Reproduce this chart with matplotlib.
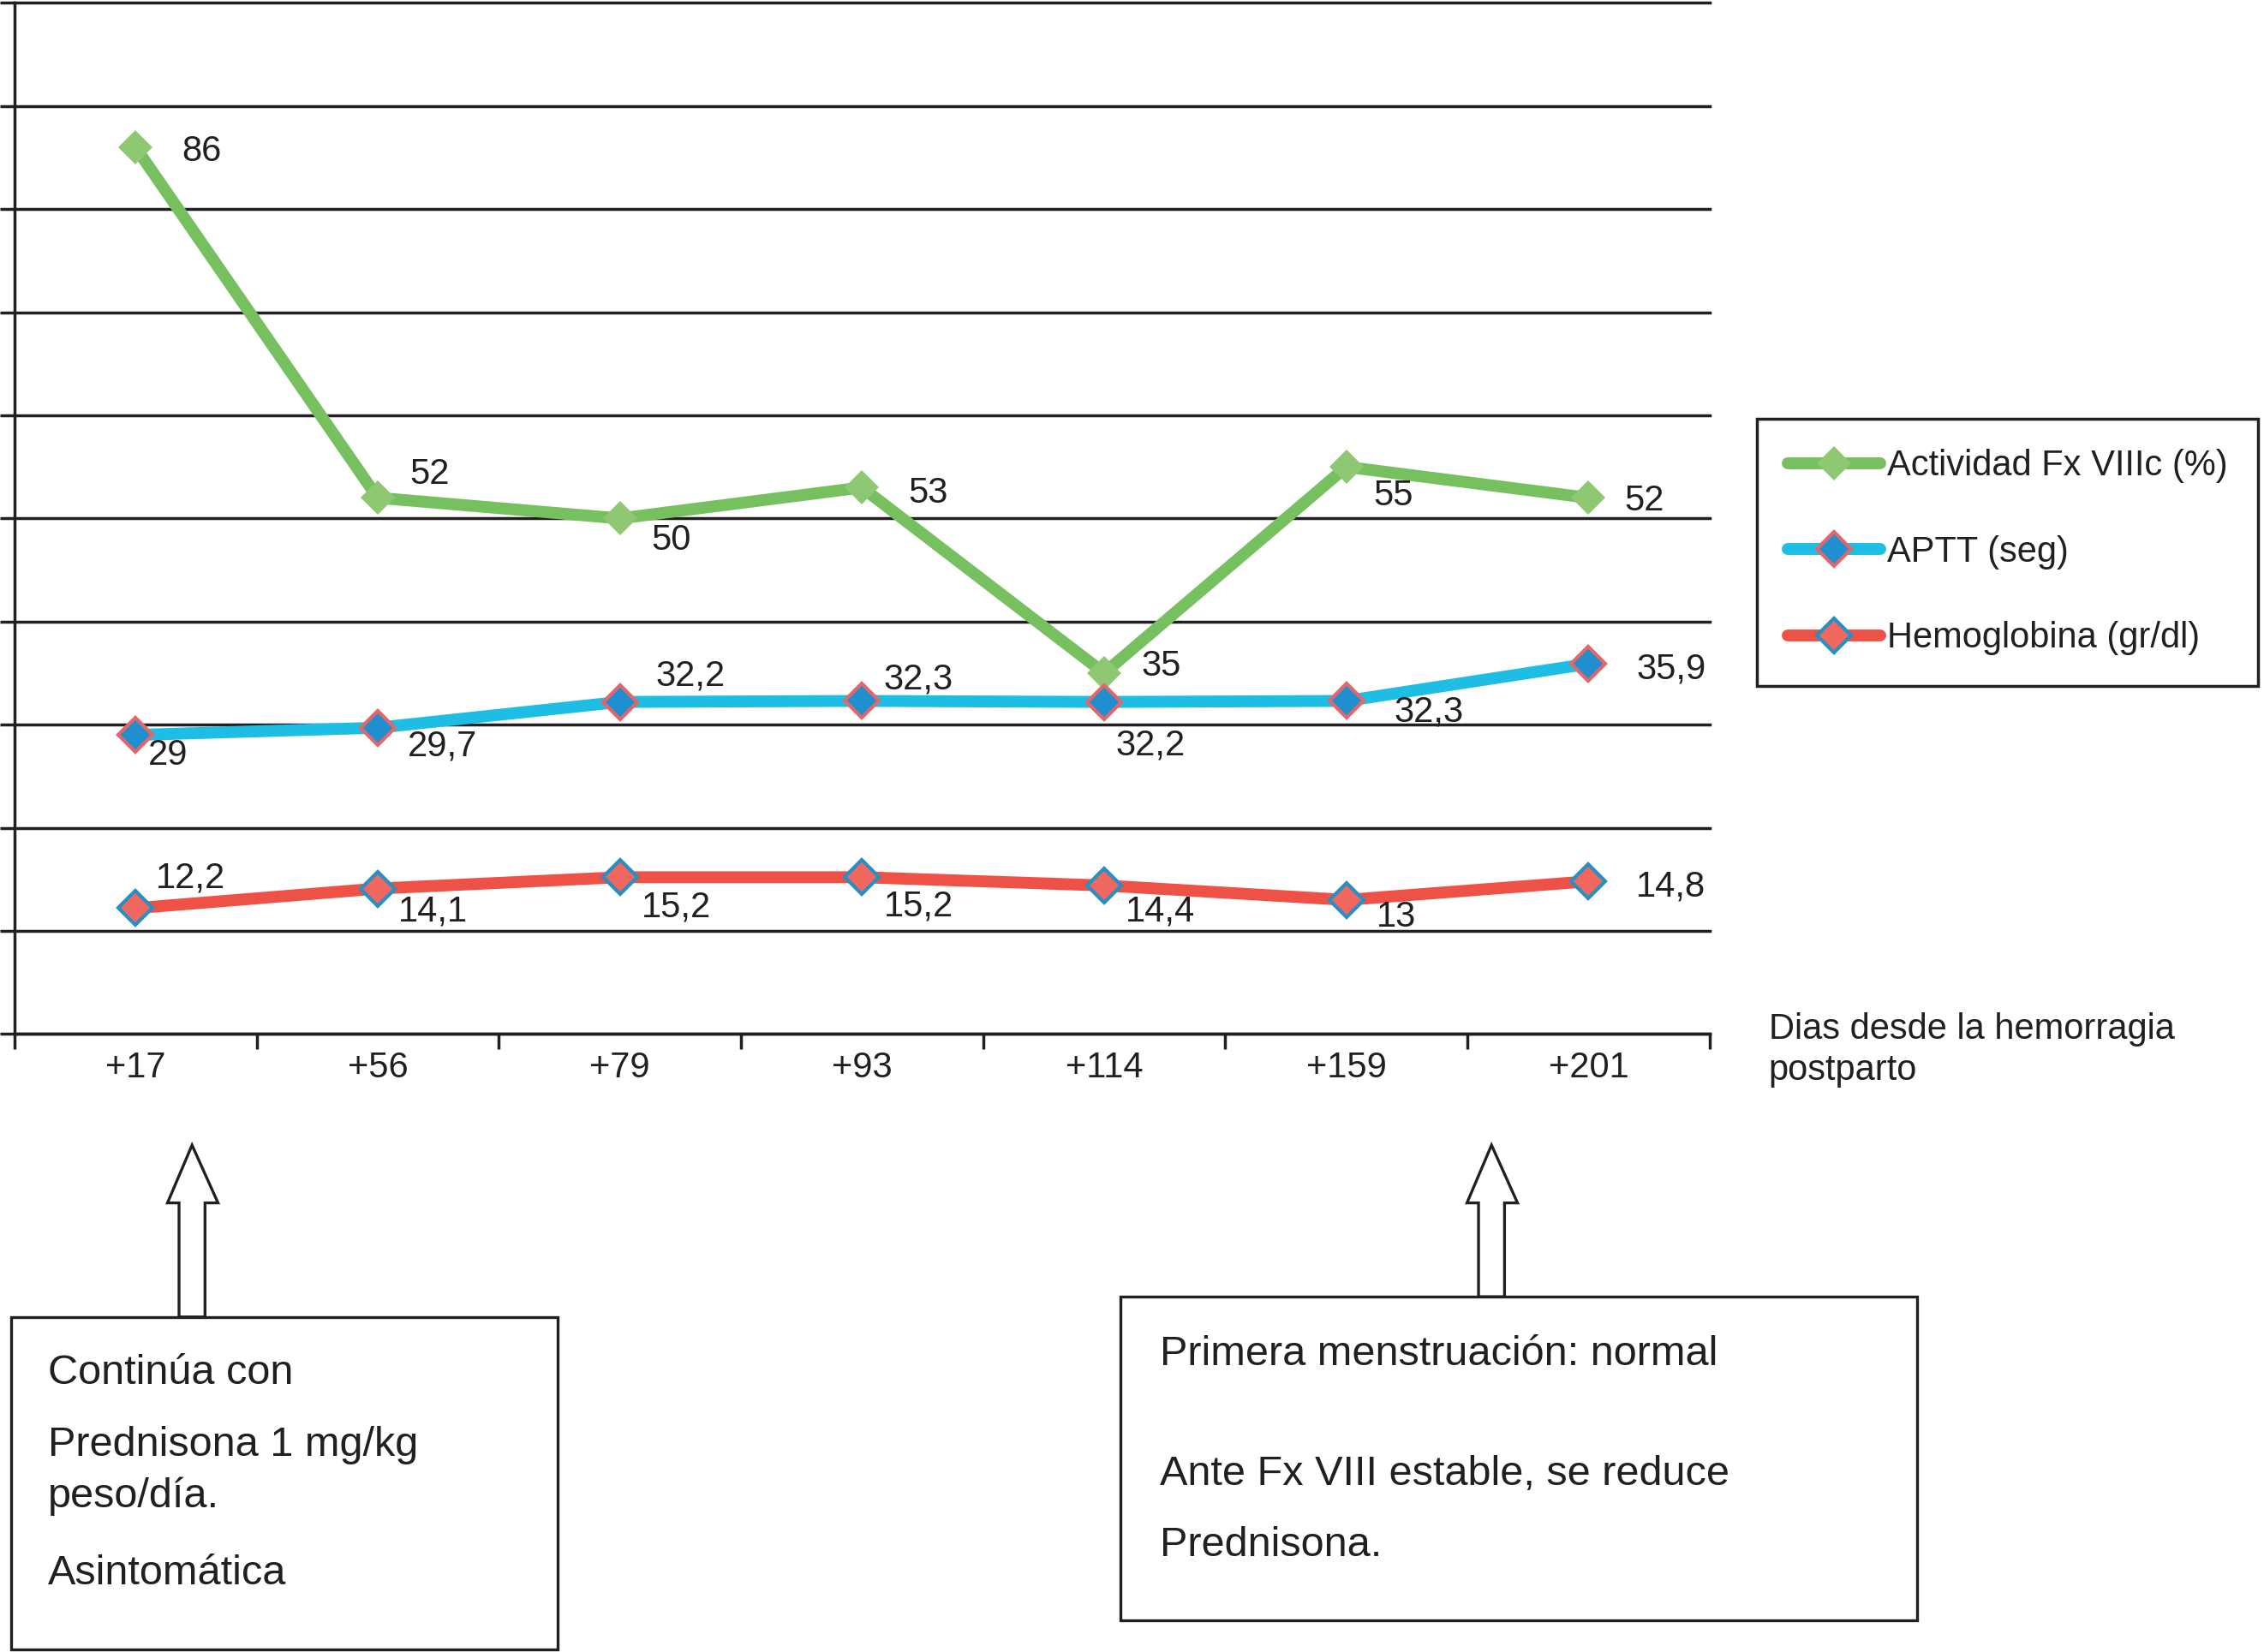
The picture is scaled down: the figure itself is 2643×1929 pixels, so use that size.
import matplotlib
matplotlib.use("Agg")
import matplotlib.pyplot as plt
from matplotlib.patches import Polygon, Rectangle

plt.rcParams["font.family"] = ["Liberation Sans", "DejaVu Sans"]

W, H, DPI = 2643, 1929, 100
# layout was measured on a 1568 px wide copy of the figure
REF_W, REF_H = 1568, 1144
PT = (W / REF_W) * 72 / DPI
INK = "#231f20"

days = ["+17", "+56", "+79", "+93", "+114", "+159", "+201"]
fviii = [86, 52, 50, 53, 35, 55, 52]
aptt = [29, 29.7, 32.2, 32.3, 32.2, 32.3, 35.9]
hemoglobin = [12.2, 14.1, 15.2, 15.2, 14.4, 13, 14.8]
series_names = ["Actividad Fx VIIIc (%)", "APTT (seg)", "Hemoglobina (gr/dl)"]

# label offsets (ref px, right / down) from each point
fviii_off = [(32, 3), (22, -16), (22, 15), (32, 4), (26, -5), (19, 20), (25, 2)]
aptt_off = [(9, 14), (21, 13), (25, -18), (15, -15), (8, 30), (33, 8), (33, 4)]
hb_off = [(14, -21), (14, 16), (15, 21), (15, 20), (15, 18), (21, 12), (33, 4)]

left_note = [("Continúa con", 951), ("Prednisona 1 mg/kg", 1001),
             ("peso/día.", 1036), ("Asintomática", 1090)]
right_note = [("Primera menstruación: normal", 938),
              ("Ante Fx VIII estable, se reduce", 1021), ("Prednisona.", 1070)]


def fx(px):
    return px / REF_W


def fy(py):
    return 1 - py / REF_H


def fmt(v):
    return f"{v:g}".replace(".", ",")


fig = plt.figure(figsize=(W / DPI, H / DPI), dpi=DPI)
ax = fig.add_axes([fx(10), fy(716), fx(1184) - fx(10), fy(2) - fy(716)])

x = list(range(len(days)))
styles = [
    (fviii, fviii_off, "#76c060", "#8fc873", "#8fc873", 0),
    (aptt, aptt_off, "#1ebde3", "#1f8fcf", "#e0676a", 3),
    (hemoglobin, hb_off, "#ee5246", "#f0675f", "#2690c4", 3),
]
for (vals, offs, lc, fc, ec, mew), name in zip(styles, series_names):
    ax.plot(x, vals, color=lc, lw=10, marker="D", ms=20, mfc=fc, mec=ec,
            mew=mew, solid_capstyle="round", label=name, zorder=3)
    for xi, v, (dx, dy) in zip(x, vals, offs):
        ax.annotate(fmt(v), (xi, v), xytext=(dx * PT, -dy * PT),
                    textcoords="offset points", ha="left", va="center",
                    fontsize=30, color=INK, zorder=4)

ax.set_xlim(-0.5, len(days) - 0.5)
ax.set_ylim(0, 100)
ax.set_xticks([i - 0.5 for i in range(len(days) + 1)])
ax.set_xticks(x, minor=True)
ax.set_xticklabels(days, minor=True)
ax.tick_params(axis="x", which="major", length=13, width=2.5, color=INK,
               labelbottom=False)
ax.tick_params(axis="x", which="minor", length=0, pad=14, labelsize=30,
               labelcolor=INK)
ax.set_yticks(range(0, 101, 10))
ax.tick_params(axis="y", length=12, width=2.5, color=INK, labelleft=False)
ax.grid(axis="y", color=INK, lw=2.5)
ax.set_axisbelow(True)
for gl in ax.get_ygridlines():
    gl.set_clip_on(False)
for side in ("top", "right"):
    ax.spines[side].set_visible(False)
for side in ("left", "bottom"):
    ax.spines[side].set_linewidth(2.5)
    ax.spines[side].set_color(INK)

leg = fig.legend(loc="upper left", bbox_to_anchor=(fx(1217), fy(290)),
                 fontsize=30, frameon=True, fancybox=False, edgecolor=INK,
                 framealpha=1, handlelength=2.6, handletextpad=0.2,
                 labelspacing=1.45, borderpad=0.85, borderaxespad=0)
leg.get_frame().set_linewidth(2.5)
for t in leg.get_texts():
    t.set_color(INK)

fig.text(fx(1225), fy(727), "Dias desde la hemorragia\npostparto",
         fontsize=30, color=INK, ha="left", va="center", linespacing=1.25)

# hollow arrows pointing up at the timeline
for cx, base in ((133, 912), (1033, 898)):
    pts = [(cx, 793), (cx + 18, 833), (cx + 9, 833), (cx + 9, base),
           (cx - 9, base), (cx - 9, 833), (cx - 17, 833)]
    fig.patches.append(Polygon([(fx(a), fy(b)) for a, b in pts], closed=True,
                               facecolor="white", edgecolor=INK, lw=2.4,
                               transform=fig.transFigure))

for x0, y0, x1, y1 in ((8, 912, 386, 1142), (776, 898, 1328, 1122)):
    fig.patches.append(Rectangle((fx(x0), fy(y1)), fx(x1) - fx(x0),
                                 fy(y0) - fy(y1), facecolor="white",
                                 edgecolor=INK, lw=2.4,
                                 transform=fig.transFigure))

for text, py in left_note:
    fig.text(fx(33), fy(py), text, fontsize=35, color=INK, ha="left",
             va="center")
for text, py in right_note:
    fig.text(fx(803), fy(py), text, fontsize=35, color=INK, ha="left",
             va="center")

fig.savefig("out.png", dpi=DPI)
